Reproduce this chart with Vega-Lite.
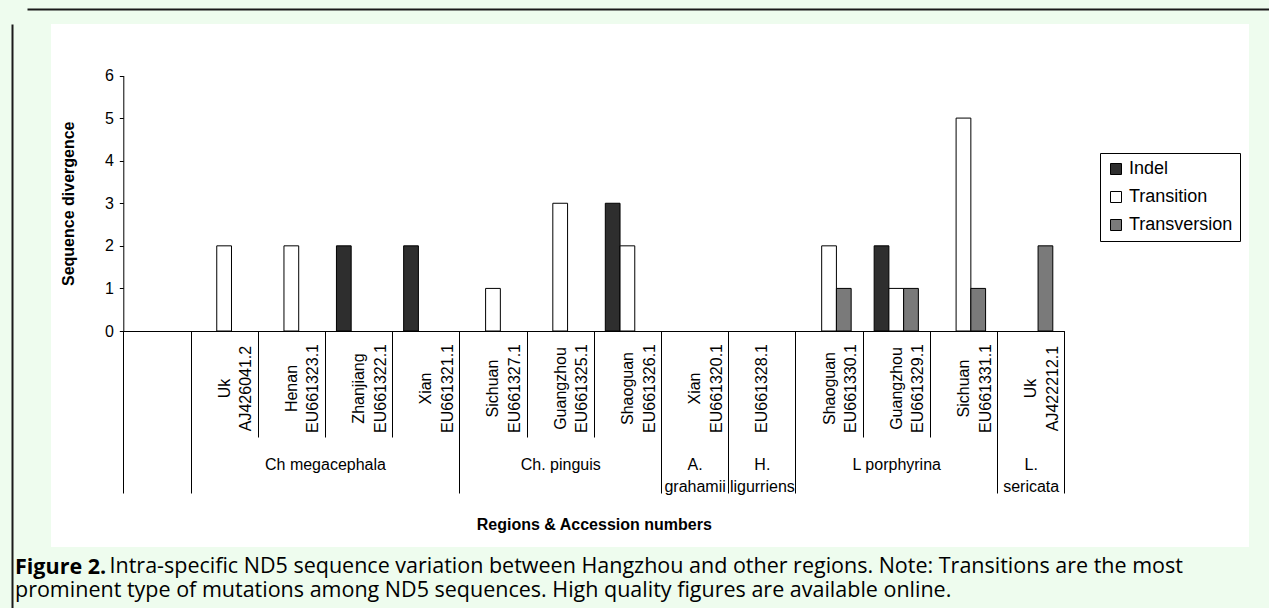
{
  "$schema": "https://vega.github.io/schema/vega-lite/v6.json",
  "width": 1198,
  "height": 523,
  "autosize": {"type": "none"},
  "padding": {"left": 51, "top": 24, "right": 20, "bottom": 61},
  "background": "#eefcee",
  "config": {
    "view": {"fill": "white", "stroke": null},
    "font": "Liberation Sans"
  },
  "title": {
    "text": "Figure 2.",
    "subtitle": "prominent type of mutations among ND5 sequences. High quality figures are available online.",
    "orient": "bottom",
    "anchor": "start",
    "frame": "group",
    "dx": -36,
    "offset": -54,
    "font": "Open Sans",
    "fontSize": 21.5,
    "fontWeight": "bold",
    "color": "black",
    "subtitleFont": "Open Sans",
    "subtitleFontSize": 21.5,
    "subtitleFontWeight": "normal",
    "subtitleColor": "black",
    "subtitlePadding": 2
  },
  "resolve": {"scale": {"x": "independent", "y": "independent"}, "axis": {"x": "independent", "y": "independent"}},
  "layer": [
    {
      "resolve": {"scale": {"x": "shared"}, "axis": {"x": "independent"}},
      "layer": [
        {
          "data": {"values": [
            {"category": "Uk AJ426041.2", "type": "Transition", "value": 2},
            {"category": "Henan EU661323.1", "type": "Transition", "value": 2},
            {"category": "Zhanjiang EU661322.1", "type": "Indel", "value": 2},
            {"category": "Xian EU661321.1", "type": "Indel", "value": 2},
            {"category": "Sichuan EU661327.1", "type": "Transition", "value": 1},
            {"category": "Guangzhou EU661325.1", "type": "Transition", "value": 3},
            {"category": "Shaoguan EU661326.1", "type": "Indel", "value": 3},
            {"category": "Shaoguan EU661326.1", "type": "Transition", "value": 2},
            {"category": "Shaoguan EU661330.1", "type": "Transition", "value": 2},
            {"category": "Shaoguan EU661330.1", "type": "Transversion", "value": 1},
            {"category": "Guangzhou EU661329.1", "type": "Indel", "value": 2},
            {"category": "Guangzhou EU661329.1", "type": "Transition", "value": 1},
            {"category": "Guangzhou EU661329.1", "type": "Transversion", "value": 1},
            {"category": "Sichuan EU661331.1", "type": "Transition", "value": 5},
            {"category": "Sichuan EU661331.1", "type": "Transversion", "value": 1},
            {"category": "Uk AJ422212.1", "type": "Transversion", "value": 2}
          ]},
          "mark": {"type": "bar", "stroke": "black", "strokeWidth": 1},
          "encoding": {
            "x": {
              "field": "category", "type": "nominal", "sort": null,
              "scale": {
                "domain": [" ", "Uk AJ426041.2", "Henan EU661323.1", "Zhanjiang EU661322.1", "Xian EU661321.1", "Sichuan EU661327.1", "Guangzhou EU661325.1", "Shaoguan EU661326.1", "Xian EU661320.1", "EU661328.1", "Shaoguan EU661330.1", "Guangzhou EU661329.1", "Sichuan EU661331.1", "Uk AJ422212.1"],
                "range": [72.3, 1013.3],
                "paddingInner": 0, "paddingOuter": 0
              },
              "axis": {
                "title": "Intra-specific ND5 sequence variation between Hangzhou and other regions. Note: Transitions are the most",
                "titleX": 58, "titleY": 224, "titleAngle": 0, "titleAlign": "left", "titleBaseline": "top",
                "titleFont": "Open Sans", "titleFontSize": 21.5, "titleFontWeight": "normal", "titleColor": "black",
                "orient": "bottom",
                "offset": -216,
                "grid": false,
                "domain": true, "domainColor": "black", "domainWidth": 1,
                "ticks": true, "tickBand": "extent", "tickSize": 106, "tickColor": "black", "tickWidth": 1,
                "labelAngle": 270, "labelAlign": "center", "labelBaseline": "middle", "labelPadding": -49,
                "labelExpr": "isString(datum.value) && datum.value !== ' ' ? split(datum.value, ' ') : ''",
                "labelLineHeight": 21.6,
                "labelFont": "Liberation Sans", "labelFontSize": 16, "labelColor": "black",
                "labelOverlap": false, "labelBound": false, "labelFlush": false, "labelLimit": 0
              }
            },
            "xOffset": {
              "field": "type", "type": "nominal",
              "scale": {"domain": ["Indel", "Transition", "Transversion"], "paddingInner": 0, "paddingOuter": 0.78}
            },
            "y": {
              "field": "value", "type": "quantitative",
              "scale": {"domain": [0, 6], "range": [307, 51.5], "nice": false, "zero": true},
              "axis": {
                "orient": "left", "offset": -72.3, "values": [0, 1, 2, 3, 4, 5, 6], "grid": false,
                "domainColor": "black", "tickColor": "black", "tickSize": 4,
                "labelFont": "Liberation Sans", "labelFontSize": 16, "labelColor": "black", "labelPadding": 6, "labelFlush": false,
                "title": "Sequence divergence", "titleFont": "Liberation Sans", "titleFontSize": 16, "titleFontWeight": "bold", "titleColor": "black", "titlePadding": 28
              }
            },
            "fill": {
              "field": "type", "type": "nominal",
              "scale": {"domain": ["Indel", "Transition", "Transversion"], "range": ["#2e2e2e", "#ffffff", "#7a7a7a"]},
              "legend": {
                "title": null, "orient": "none", "legendX": 1049, "legendY": 129,
                "strokeColor": "black", "fillColor": "white", "padding": 7,
                "symbolType": "square", "symbolSize": 121, "symbolStrokeColor": "black", "symbolStrokeWidth": 1,
                "labelFont": "Liberation Sans", "labelFontSize": 18, "labelColor": "black", "labelOffset": 4,
                "rowPadding": 10
              }
            }
          }
        },
        {
          "data": {"values": [
            {"category": " ", "group": ""},
            {"category": "Xian EU661321.1", "group": "Ch megacephala"},
            {"category": "Shaoguan EU661326.1", "group": "Ch. pinguis"},
            {"category": "Xian EU661320.1", "group": "A. grahamii"},
            {"category": "EU661328.1", "group": "H. ligurriens"},
            {"category": "Sichuan EU661331.1", "group": "L porphyrina"},
            {"category": "Uk AJ422212.1", "group": "L. sericata"}
          ]},
          "mark": {"type": "text", "opacity": 0},
          "encoding": {
            "x": {
              "field": "category", "type": "nominal", "sort": null,
              "axis": {
                "title": "Regions & Accession numbers", "titleFont": "Liberation Sans", "titleFontSize": 16, "titleFontWeight": "bold", "titleColor": "black", "titlePadding": 22,
                "orient": "bottom", "offset": -216,
                "grid": false, "domain": false,
                "values": [" ", "Xian EU661321.1", "Shaoguan EU661326.1", "Xian EU661320.1", "EU661328.1", "Sichuan EU661331.1", "Uk AJ422212.1"],
                "ticks": true, "tickBand": "extent", "tickSize": 162, "tickColor": "black", "tickWidth": 1,
                "labelAngle": 0, "labelAlign": "center", "labelBaseline": "top", "labelPadding": -37,
                "labelExpr": "datum.value === 'Xian EU661321.1' ? 'Ch megacephala' : datum.value === 'Shaoguan EU661326.1' ? 'Ch. pinguis' : datum.value === 'Xian EU661320.1' ? ['A.', 'grahamii'] : datum.value === 'EU661328.1' ? ['H.', 'ligurriens'] : datum.value === 'Sichuan EU661331.1' ? 'L porphyrina' : datum.value === 'Uk AJ422212.1' ? ['L.', 'sericata'] : ''",
                "labelOffset": {"condition": [{"test": "datum.value === 'Xian EU661321.1'", "value": -100.8}, {"test": "datum.value === 'Shaoguan EU661326.1' || datum.value === 'Sichuan EU661331.1'", "value": -67.2}], "value": 0},
                "labelLineHeight": 22.5,
                "labelFont": "Liberation Sans", "labelFontSize": 16, "labelColor": "black",
                "labelOverlap": false, "labelBound": false, "labelFlush": false, "labelLimit": 0
              }
            },
            "text": {"field": "group"}
          }
        }
      ]
    },
    {
      "data": {"values": [{"edge": 0}]},
      "mark": {"type": "point", "opacity": 0},
      "encoding": {
        "x": {
          "field": "edge", "type": "quantitative",
          "scale": {"domain": [0, 1], "range": [-24, 1240], "nice": false, "zero": false},
          "axis": {"orient": "top", "offset": 15, "domain": true, "domainColor": "#1a1a1a", "domainWidth": 2, "ticks": false, "labels": false, "grid": false, "title": null}
        },
        "y": {
          "field": "edge", "type": "quantitative",
          "scale": {"domain": [0, 1], "range": [584, 0], "nice": false, "zero": false},
          "axis": {"orient": "left", "offset": 39, "domain": true, "domainColor": "#1a1a1a", "domainWidth": 2, "ticks": false, "labels": false, "grid": false, "title": null}
        }
      }
    }
  ]
}
